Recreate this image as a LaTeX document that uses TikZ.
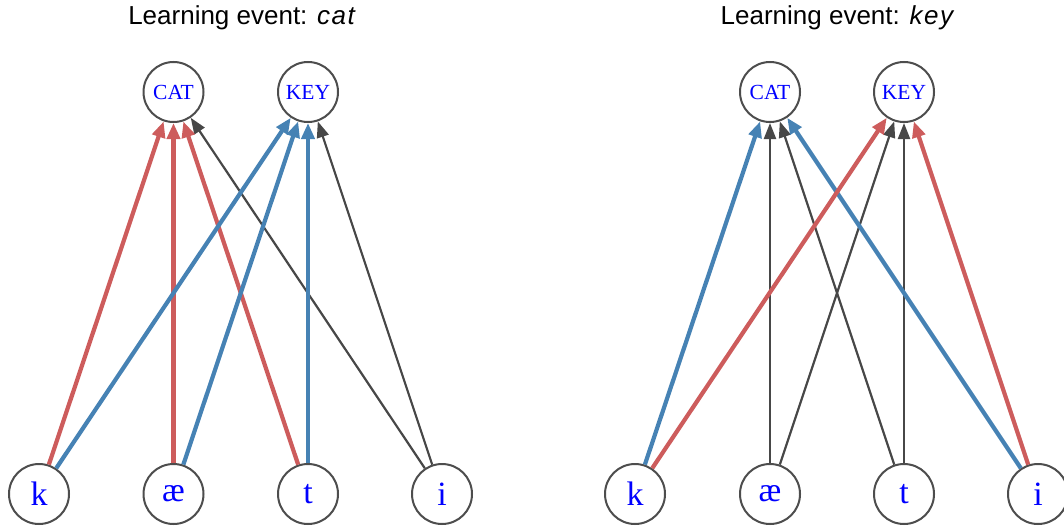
\documentclass[tikz,border=0pt]{standalone}
\usepackage{fontspec}
\setmainfont{Liberation Serif}
\newfontfamily\titlefont{Liberation Sans}
\usetikzlibrary{arrows.meta}
\definecolor{edgered}{HTML}{CD5C5C}
\definecolor{edgeblue}{HTML}{4682B4}
\definecolor{edgegray}{HTML}{474747}
\definecolor{nodegray}{HTML}{4D4D4D}
\tikzset{
  unit/.style={circle, draw=nodegray, line width=2pt, fill=white, minimum size=60pt, inner sep=0pt, text=blue},
  outunit/.style={unit, font=\fontsize{21.5}{23}\selectfont},
  inunit/.style={unit, font=\fontsize{34}{36}\selectfont},
  titletext/.style={anchor=base, font=\titlefont\fontsize{26}{30}\selectfont, inner sep=0pt},
  redline/.style={draw=edgered, line width=4.2pt, -{Triangle[length=16pt,width=13pt]}},
  blueline/.style={draw=edgeblue, line width=4.2pt, -{Triangle[length=16pt,width=13pt]}},
  grayline/.style={draw=edgegray, line width=2.2pt, -{Triangle[length=16pt,width=12pt]}},
}
\begin{document}
\begin{tikzpicture}[x=1pt,y=-1pt]
\useasboundingbox (0,0) rectangle (1064,527);
% titles
\node[titletext] (t1) at (242,25) {Learning event: \textit{c\kern1.5pt a\kern1.5pt t}};
\node[titletext] (t2) at (837.5,25) {Learning event: \textit{k\kern1.5pt e\kern1.5pt y}};
% left panel
\node[outunit] (catL) at (173.5,92) {CAT};
\node[outunit] (keyL) at (308,92) {KEY};
\node[inunit] (kL) at (39,494) {k};
\node[inunit] (aL) at (173.5,494) {æ};
\node[inunit] (tL) at (308,494) {t};
\node[inunit] (iL) at (442,494) {i};
% right panel
\node[outunit] (catR) at (770,92) {CAT};
\node[outunit] (keyR) at (904,92) {KEY};
\node[inunit] (kR) at (635,494) {k};
\node[inunit] (aR) at (770,494) {æ};
\node[inunit] (tR) at (904,494) {t};
\node[inunit] (iR) at (1038,494) {i};
% left edges
\draw[grayline] (iL) -- (catL);
\draw[grayline] (iL) -- (keyL);
\draw[redline] (kL) -- (catL);
\draw[redline] (aL) -- (catL);
\draw[redline] (tL) -- (catL);
\draw[blueline] (kL) -- (keyL);
\draw[blueline] (aL) -- (keyL);
\draw[blueline] (tL) -- (keyL);
% right edges
\draw[grayline] (aR) -- (catR);
\draw[grayline] (aR) -- (keyR);
\draw[grayline] (tR) -- (catR);
\draw[grayline] (tR) -- (keyR);
\draw[blueline] (kR) -- (catR);
\draw[blueline] (iR) -- (catR);
\draw[redline] (kR) -- (keyR);
\draw[redline] (iR) -- (keyR);
\end{tikzpicture}
\end{document}
